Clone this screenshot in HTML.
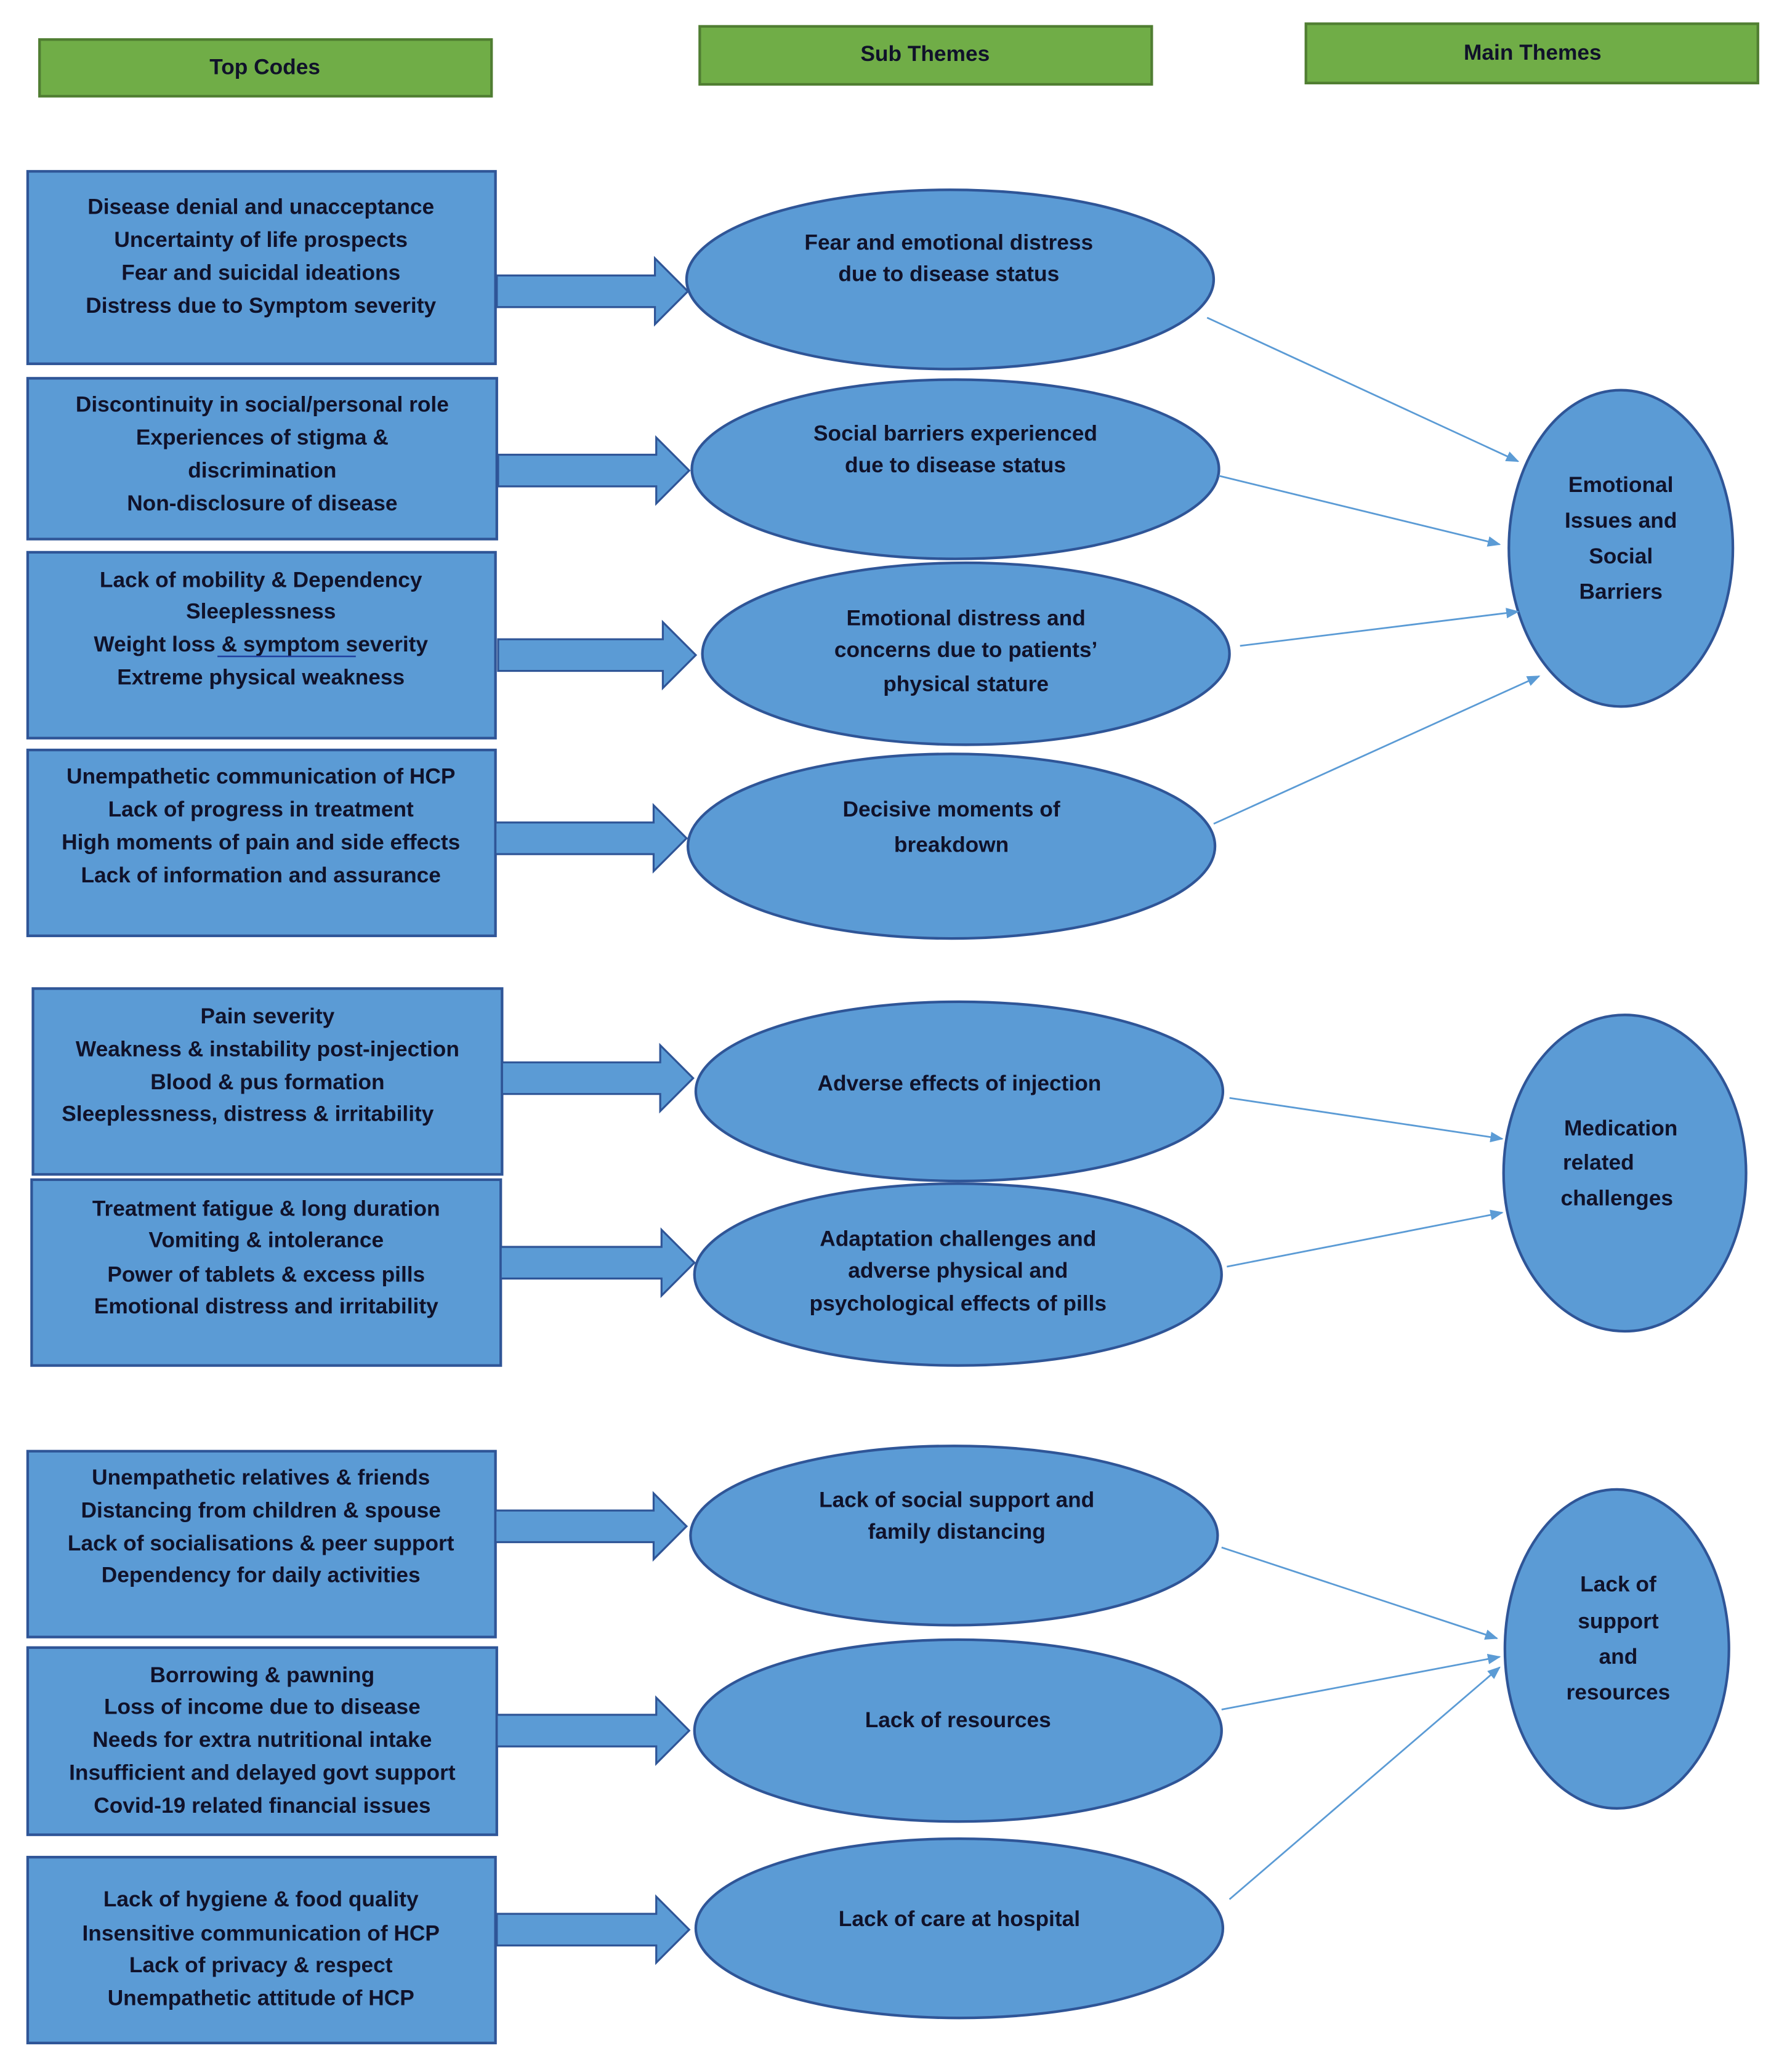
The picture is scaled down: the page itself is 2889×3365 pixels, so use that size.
<!DOCTYPE html>
<html><head><meta charset="utf-8"><style>
html,body{margin:0;padding:0;background:#fff;}
svg{display:block;}
text{font-family:"Liberation Sans",sans-serif;font-weight:bold;font-size:16.5px;fill:#10122a;text-anchor:middle;dominant-baseline:middle;}
</style></head><body>
<svg width="2889" height="3365" viewBox="0 0 1350 1572" preserveAspectRatio="none" xmlns="http://www.w3.org/2000/svg">
<defs>
<marker id="ah" markerWidth="10" markerHeight="10" refX="9" refY="5" orient="auto" markerUnits="userSpaceOnUse"><path d="M0,1 L10,5 L0,9 Z" fill="#5b9bd5"/></marker>
</defs>
<rect width="1350" height="1572" fill="#fff"/>
<g fill="#70ad47" stroke="#507e32" stroke-width="2">
<rect x="30" y="30" width="343" height="43"/>
<rect x="531" y="20" width="343" height="44"/>
<rect x="991" y="18" width="343" height="45"/>
</g>
<text x="201" y="52">Top Codes</text>
<text x="702" y="42">Sub Themes</text>
<text x="1163" y="41">Main Themes</text>

<g fill="#5b9bd5" stroke="#2f5597" stroke-width="2">
<rect x="21" y="130" width="355" height="146"/>
<rect x="21" y="287" width="356" height="122"/>
<rect x="21" y="419" width="355" height="141"/>
<rect x="21" y="569" width="355" height="141"/>
<rect x="25" y="750" width="356" height="141"/>
<rect x="24" y="895" width="356" height="141"/>
<rect x="21" y="1101" width="355" height="141"/>
<rect x="21" y="1250" width="356" height="142"/>
<rect x="21" y="1409" width="355" height="141"/>
</g>

<g fill="#5b9bd5" stroke="#2f5597" stroke-width="1.5">
<path d="M377,209 H497 V196 L522,221 L497,246 V233 H377 Z"/>
<path d="M378,345 H498 V332 L523,357 L498,382 V369 H378 Z"/>
<path d="M378,485 H503 V472 L528,497 L503,522 V509 H378 Z"/>
<path d="M376,624 H496 V611 L521,636 L496,661 V648 H376 Z"/>
<path d="M381,806 H501 V793 L526,818 L501,843 V830 H381 Z"/>
<path d="M380,946 H502 V933 L527,958 L502,983 V970 H380 Z"/>
<path d="M376,1146 H496 V1133 L521,1158 L496,1183 V1170 H376 Z"/>
<path d="M377,1301 H498 V1288 L523,1313 L498,1338 V1325 H377 Z"/>
<path d="M377,1452 H498 V1439 L523,1464 L498,1489 V1476 H377 Z"/>
</g>

<g fill="#5b9bd5" stroke="#2f5597" stroke-width="2">
<ellipse cx="721" cy="212" rx="200" ry="68"/>
<ellipse cx="725" cy="356" rx="200" ry="68"/>
<ellipse cx="733" cy="496" rx="200" ry="69"/>
<ellipse cx="722" cy="642" rx="200" ry="70"/>
<ellipse cx="728" cy="828" rx="200" ry="68"/>
<ellipse cx="727" cy="967" rx="200" ry="69"/>
<ellipse cx="724" cy="1165" rx="200" ry="68"/>
<ellipse cx="727" cy="1313" rx="200" ry="69"/>
<ellipse cx="728" cy="1463" rx="200" ry="68"/>
<ellipse cx="1230" cy="416" rx="85" ry="120"/>
<ellipse cx="1233" cy="890" rx="92" ry="120"/>
<ellipse cx="1227" cy="1251" rx="85" ry="121"/>
</g>

<g stroke="#5b9bd5" stroke-width="1.3" marker-end="url(#ah)">
<line x1="916" y1="241" x2="1152" y2="350"/>
<line x1="925" y1="361" x2="1138" y2="413"/>
<line x1="941" y1="490" x2="1152" y2="464"/>
<line x1="921" y1="625" x2="1168" y2="513"/>
<line x1="933" y1="833" x2="1140" y2="864"/>
<line x1="931" y1="961" x2="1140" y2="920"/>
<line x1="927" y1="1174" x2="1136" y2="1243"/>
<line x1="927" y1="1297" x2="1138" y2="1257"/>
<line x1="933" y1="1441" x2="1138" y2="1265"/>
</g>

<text x="198" y="158">Disease denial and unacceptance</text>
<text x="198" y="183">Uncertainty of life prospects</text>
<text x="198" y="208">Fear and suicidal ideations</text>
<text x="198" y="233">Distress due to Symptom severity</text>

<text x="199" y="308">Discontinuity in social/personal role</text>
<text x="199" y="333">Experiences of stigma &amp;</text>
<text x="199" y="358">discrimination</text>
<text x="199" y="383">Non-disclosure of disease</text>

<text x="198" y="441">Lack of mobility &amp; Dependency</text>
<text x="198" y="465">Sleeplessness</text>
<text x="198" y="490">Weight loss  &amp;  symptom severity</text>
<line x1="165" y1="498" x2="270" y2="498" stroke="#1f3f9f" stroke-width="1.2"/>
<text x="198" y="515">Extreme physical weakness</text>

<text x="198" y="590">Unempathetic communication of HCP</text>
<text x="198" y="615">Lack of progress in treatment</text>
<text x="198" y="640">High moments of pain and side effects</text>
<text x="198" y="665">Lack of information and assurance</text>

<text x="203" y="772">Pain severity</text>
<text x="203" y="797">Weakness &amp; instability post-injection</text>
<text x="203" y="822">Blood &amp; pus formation</text>
<text x="188" y="846">Sleeplessness, distress &amp; irritability</text>

<text x="202" y="918">Treatment fatigue &amp; long duration</text>
<text x="202" y="942">Vomiting &amp; intolerance</text>
<text x="202" y="968">Power of tablets &amp; excess pills</text>
<text x="202" y="992">Emotional distress and irritability</text>

<text x="198" y="1122">Unempathetic relatives &amp; friends</text>
<text x="198" y="1147">Distancing from children &amp; spouse</text>
<text x="198" y="1172">Lack of socialisations &amp; peer support</text>
<text x="198" y="1196">Dependency for daily activities</text>

<text x="199" y="1272">Borrowing &amp; pawning</text>
<text x="199" y="1296">Loss of income due to disease</text>
<text x="199" y="1321">Needs for extra nutritional intake</text>
<text x="199" y="1346">Insufficient and delayed govt support</text>
<text x="199" y="1371">Covid-19 related financial issues</text>

<text x="198" y="1442">Lack of hygiene &amp; food quality</text>
<text x="198" y="1468">Insensitive communication of HCP</text>
<text x="198" y="1492">Lack of privacy &amp; respect</text>
<text x="198" y="1517">Unempathetic attitude of HCP</text>

<text x="720" y="185">Fear and emotional distress</text>
<text x="720" y="209">due to disease status</text>
<text x="725" y="330">Social barriers experienced</text>
<text x="725" y="354">due to disease status</text>
<text x="733" y="470">Emotional distress and</text>
<text x="733" y="494">concerns due to patients’</text>
<text x="733" y="520">physical stature</text>
<text x="722" y="615">Decisive moments of</text>
<text x="722" y="642">breakdown</text>
<text x="728" y="823">Adverse effects of injection</text>
<text x="727" y="941">Adaptation challenges and</text>
<text x="727" y="965">adverse physical and</text>
<text x="727" y="990">psychological effects of pills</text>
<text x="726" y="1139">Lack of social support and</text>
<text x="726" y="1163">family distancing</text>
<text x="727" y="1306">Lack of resources</text>
<text x="728" y="1457">Lack of care at hospital</text>

<text x="1230" y="369">Emotional</text>
<text x="1230" y="396">Issues and</text>
<text x="1230" y="423">Social</text>
<text x="1230" y="450">Barriers</text>
<text x="1230" y="857">Medication</text>
<text x="1213" y="883">related</text>
<text x="1227" y="910">challenges</text>
<text x="1228" y="1203">Lack of</text>
<text x="1228" y="1231">support</text>
<text x="1228" y="1258">and</text>
<text x="1228" y="1285">resources</text>
</svg>
</body></html>
